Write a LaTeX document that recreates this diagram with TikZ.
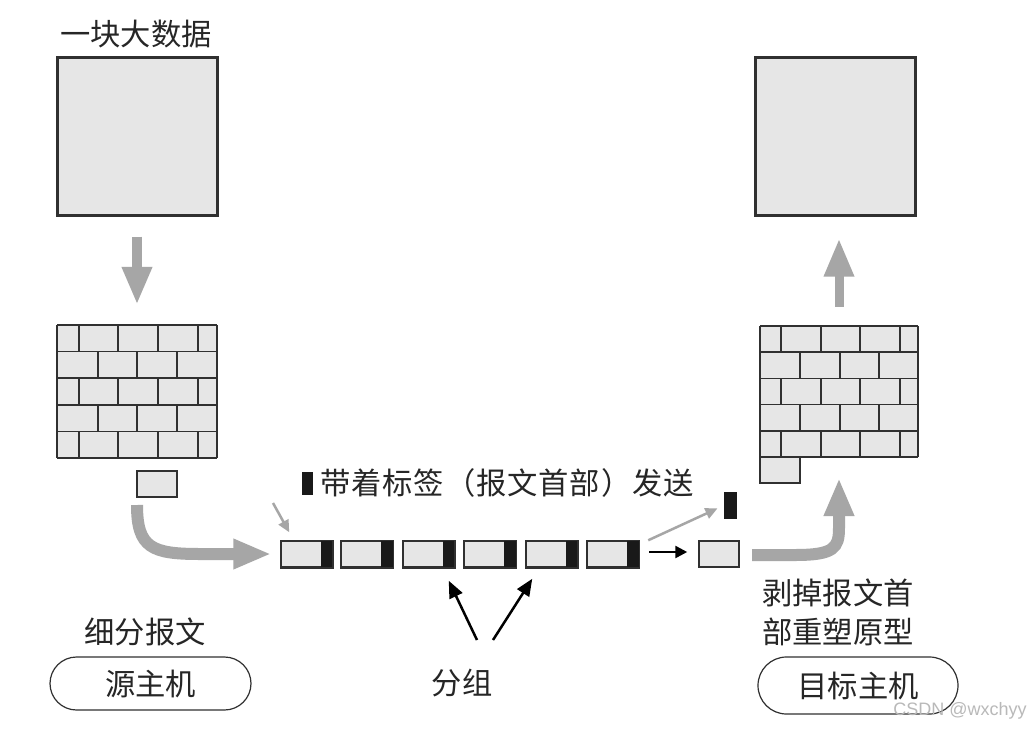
\documentclass[tikz,border=0pt]{standalone}
\usepackage{fontspec}
\newfontfamily\cjk{Noto Sans CJK SC}
\newfontfamily\cjkwide{Noto Sans CJK SC}[LetterSpace=3]
\newfontfamily\wmfont{Liberation Sans}
\usetikzlibrary{arrows.meta,shapes.misc}
\definecolor{boxfill}{HTML}{E6E6E6}
\definecolor{arrowgray}{HTML}{A6A6A6}
\definecolor{edge}{HTML}{303030}
\begin{document}
\begin{tikzpicture}[x=1pt,y=-1pt,
  txt/.style={font=\cjk\fontsize{30.3}{39}\selectfont, inner sep=0pt, align=center, text=black!85},
  widetxt/.style={font=\cjkwide\fontsize{30.3}{39}\selectfont, inner sep=0pt, text=black!85},
  bigbox/.style={draw=edge, fill=boxfill, line width=3pt, minimum width=160pt, minimum height=158pt, inner sep=0pt},
  smallbox/.style={draw=edge, fill=boxfill, line width=1.5pt, minimum width=40pt, minimum height=26pt, inner sep=0pt},
  packet/.style={draw=edge, fill=boxfill, line width=1.5pt, minimum width=51pt, minimum height=26pt, inner sep=0pt},
  blackmark/.style={fill=black!90, inner sep=0pt},
  wallarea/.style={inner sep=0pt},
  brick/.style={draw=edge, line width=1.6pt},
  hostbox/.style={draw=edge, rounded rectangle, line width=1.2pt, inner sep=0pt},
  fatarrow/.style={draw=arrowgray, line width=11pt, -{Triangle[length=38pt,width=28pt]}},
  thinarrow/.style={draw=arrowgray, line width=2.5pt, -{Triangle[length=12pt,width=11pt]}},
  blackarrow/.style={draw=black, line width=2.5pt, -{Triangle[length=12pt,width=12pt]}},
  grparrow/.style={draw=black, line width=2.5pt, -{Triangle[length=17pt,width=14pt]}},
]
\fill[white] (0,0) rectangle (1029,729);
\useasboundingbox (0,0) rectangle (1029,729);

% top texts and big squares
\node[txt] (t1) at (136,34) {一块大数据};
\node[bigbox] (src) at (137,136) {};
\node[bigbox] (dst) at (835,136) {};

% left brick wall
\node[wallarea, minimum width=160pt, minimum height=133pt] (lwall) at (137,391.5) {};
\fill[boxfill] (57,325) rectangle (217,458);
\foreach \y in {325,351.6,378.2,404.8,431.4,458} \draw[brick] (57,\y) -- (217,\y);
\draw[brick] (57,325) -- (57,458);
\draw[brick] (217,325) -- (217,458);
\foreach \a/\b in {325/351.6, 378.2/404.8, 431.4/458} {
  \foreach \x in {79,118,158,198} \draw[brick] (\x,\a) -- (\x,\b);
}
\foreach \a/\b in {351.6/378.2, 404.8/431.4} {
  \foreach \x in {98,137,177} \draw[brick] (\x,\a) -- (\x,\b);
}

% right brick wall
\node[wallarea, minimum width=158pt, minimum height=131pt] (rwall) at (839,391.5) {};
\fill[boxfill] (760,326) rectangle (918,457);
\fill[boxfill] (760,457) rectangle (800,483);
\foreach \y in {326,352.2,378.4,404.6,430.8,457} \draw[brick] (760,\y) -- (918,\y);
\draw[brick] (760,326) -- (760,483) -- (800,483) -- (800,457);
\draw[brick] (918,326) -- (918,457);
\foreach \a/\b in {326/352.2, 378.4/404.6, 430.8/457} {
  \foreach \x in {781,821,860,900} \draw[brick] (\x,\a) -- (\x,\b);
}
\foreach \a/\b in {352.2/378.4, 404.6/430.8} {
  \foreach \x in {800,840,879} \draw[brick] (\x,\a) -- (\x,\b);
}

% vertical fat arrows
\draw[fatarrow, line width=10pt] ([yshift=-20pt]src.south) -- ([yshift=20pt]lwall.north);
\draw[fatarrow, line width=9pt] ([yshift=19pt]rwall.north) -- ([yshift=-22pt]rwall.north |- dst.south);

% small box under left wall
\node[smallbox] (piece) at (157,484) {};

% packets
\foreach \i/\x in {1/306.5, 2/367, 3/428.5, 4/490, 5/551.5, 6/613} {
  \node[packet] (p\i) at (\x,554) {};
  \fill[black!90] ([xshift=-12pt]p\i.north east) rectangle (p\i.south east);
  \draw[edge, line width=1.5pt] (p\i.north west) rectangle (p\i.south east);
}

% stripped packet body and tag
\node[smallbox] (box2) at (719,554) {};
\node[blackmark, minimum width=13pt, minimum height=27pt] (tag) at (730.5,505.5) {};

% legend
\node[blackmark, minimum width=11pt, minimum height=23pt] (legmark) at (307.5,483.5) {};
\node[widetxt, anchor=west] (legend) at (320,483) {带着标签（报文首部）发送};

% curved fat arrows
\coordinate (c1) at (137,505);
\draw[fatarrow, line width=12pt] (c1) .. controls (137,548) and (152,554) .. (200,554) -- ([xshift=-9pt]p1.west);
\coordinate (c2) at (752,555);
\coordinate (c3) at (839,478);
\draw[fatarrow, line width=12pt] (c2) -- (795,555) .. controls (834,555) and (839,548) .. (839,528) -- (c3);

% thin arrows
\coordinate (g1) at (273,503);
\draw[thinarrow] (g1) -- ([xshift=9pt,yshift=8pt]p1.north west);
\draw[thinarrow, shorten >=7pt] ([xshift=9pt]p6.north east) -- (tag.west);
\draw[blackarrow] ([xshift=10pt,yshift=2pt]p6.east) -- ([xshift=-11pt,yshift=2pt]box2.west);

% group label and arrows
\node[txt] (grp) at (462,683) {分组};
\coordinate (ga) at (477,640);
\coordinate (gb) at (493,640);
\draw[grparrow] (ga) -- ([xshift=-6pt,yshift=-13pt]p3.south east);
\draw[grparrow] (gb) -- ([xshift=7pt,yshift=-11pt]p5.south west);

% bottom labels
\node[txt] (split) at (145,632) {细分报文};
\node[hostbox, txt, minimum width=201pt, minimum height=53pt] (srch) at (150.5,683.5) {源主机};
\node[txt, align=left] (strip) at (838,612.5) {剥掉报文首\\部重塑原型};
\node[hostbox, txt, minimum width=200pt, minimum height=57pt] (dsth) at (858,685.5) {目标主机};

% watermark
\node[font=\wmfont\fontsize{18}{18}\selectfont, text=gray!55, inner sep=0pt] (wm) at (960,711) {CSDN @wxchyy};
\end{tikzpicture}
\end{document}
